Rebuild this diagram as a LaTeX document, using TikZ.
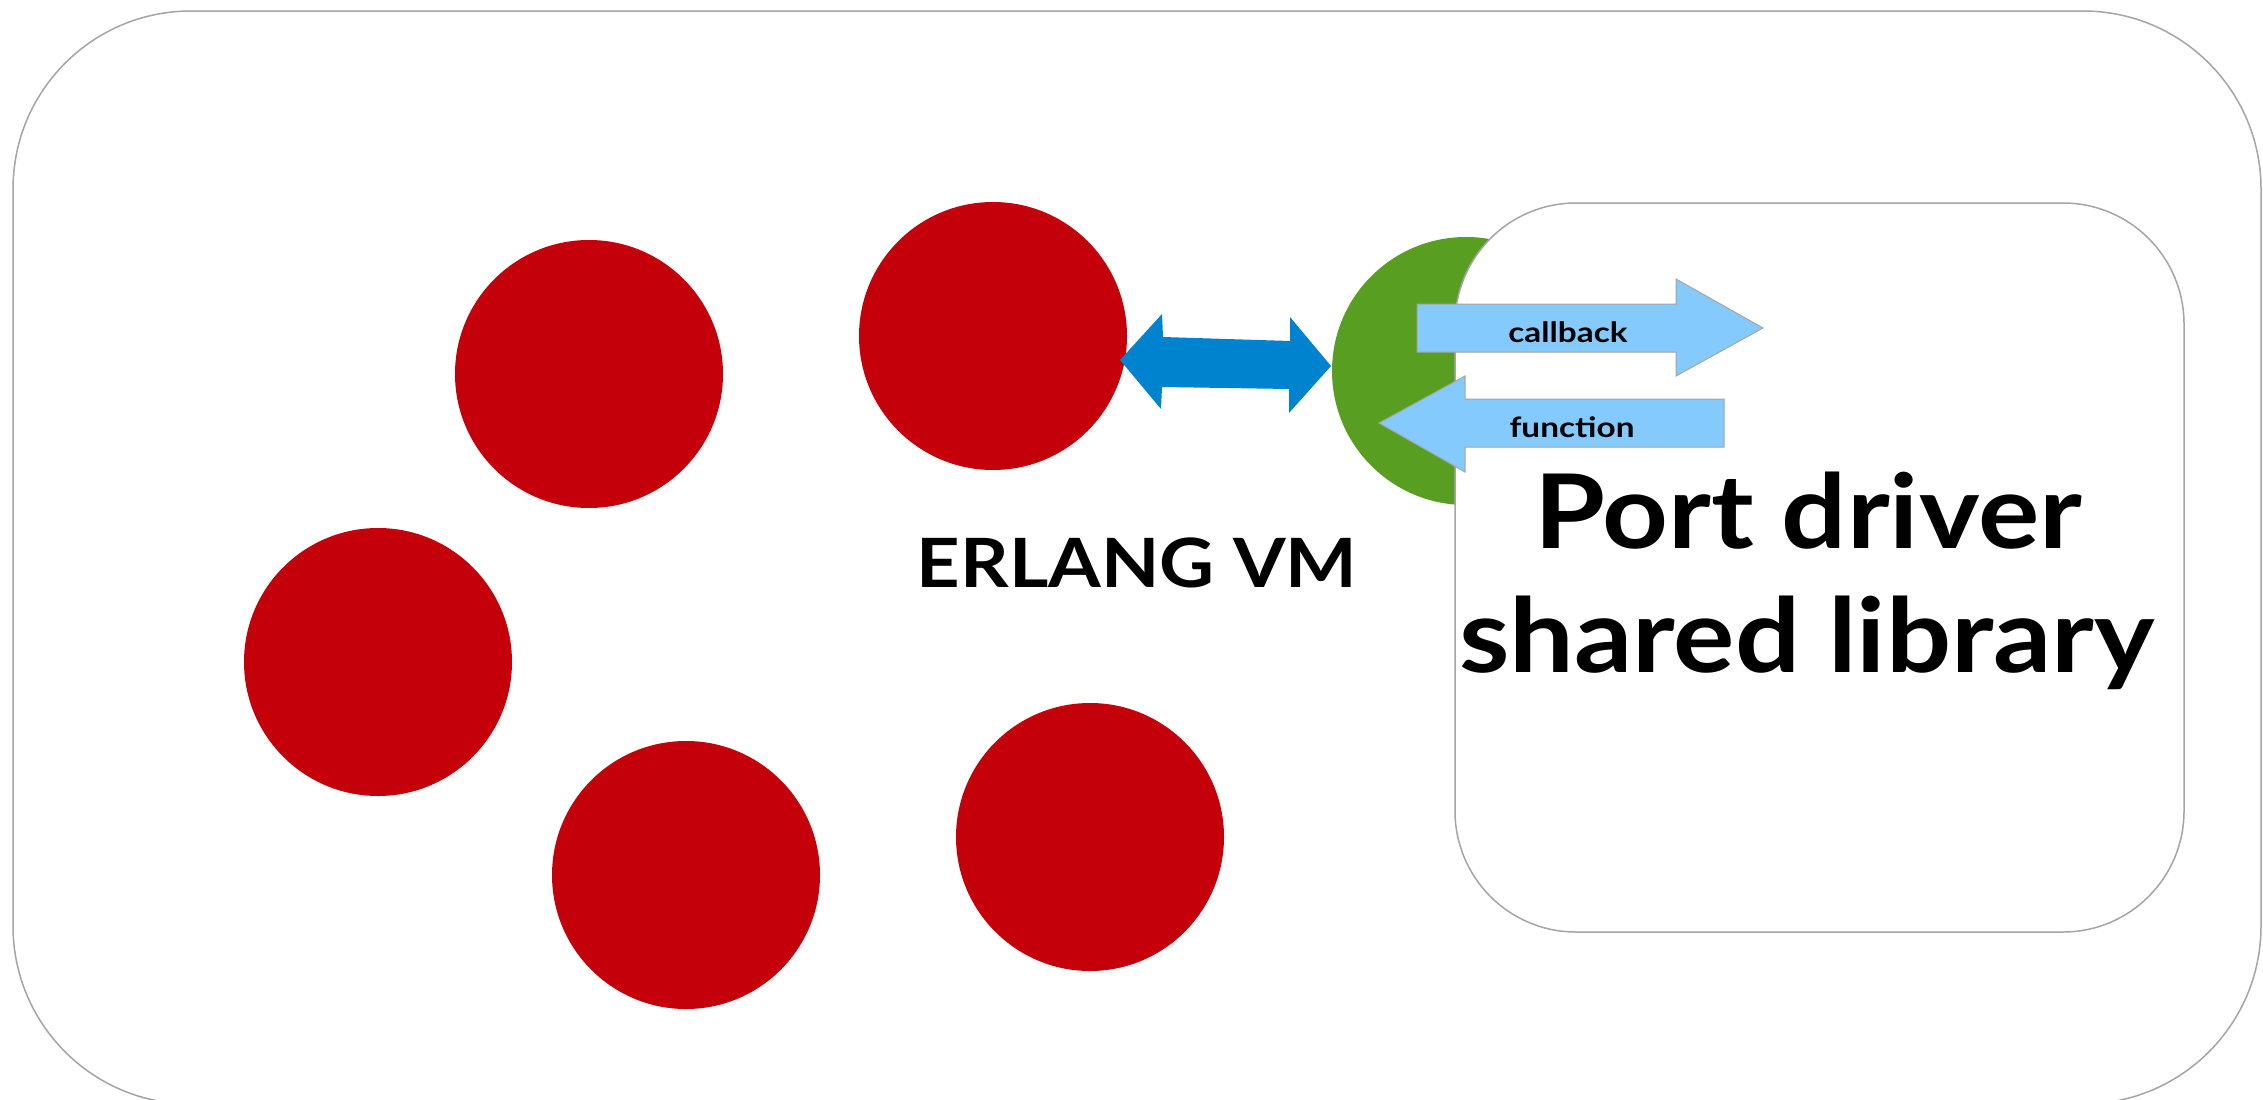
\documentclass[tikz,border=0pt]{standalone}
\usepackage{fontspec}
\setmainfont{Lato}
\newfontfamily\widefont[FakeStretch=1.115]{Lato}
\newfontfamily\smallwidefont[FakeStretch=1.19]{Lato}
\definecolor{erred}{RGB}{196,0,11}
\definecolor{ergreen}{RGB}{88,158,32}
\definecolor{erblue}{RGB}{0,131,207}
\definecolor{ltblue}{RGB}{132,202,252}
\definecolor{edgegray}{RGB}{165,165,165}
\begin{document}
\begin{tikzpicture}[x=1pt,y=-1pt,
  proc/.style={circle,fill=erred,minimum size=268pt,inner sep=0pt},
  portc/.style={circle,fill=ergreen,minimum size=268pt,inner sep=0pt},
  frame/.style={draw=edgegray,line width=1.5pt},
  blockarrow/.style={fill=ltblue,draw=edgegray,line width=1pt},
  lbl/.style={anchor=base,inner sep=0pt}]
\useasboundingbox (0,0) rectangle (2263,1100);
\fill[white] (0,0) rectangle (2263,1100);
\begin{scope}
\clip (0,0) rectangle (2263,1100);
\draw[frame,rounded corners=178pt] (13,11) rectangle (2261,1104);
\end{scope}
% processes
\node[proc] (pa) at (589,374) {};
\node[proc] (pb) at (993,336) {};
\node[proc] (pc) at (378,662) {};
\node[proc] (pd) at (686,875) {};
\node[proc] (pe) at (1090,837) {};
\node[portc] (port) at (1466,371) {};
% blue double arrow
\fill[erblue] (1120,360) -- (1162,314) -- (1163,337) -- (1290,341) -- (1290,317)
  -- (1331,366) -- (1289,413) -- (1289,389) -- (1162,387) -- (1161,409) -- cycle;
% shared library box
\draw[frame,fill=white,rounded corners=121pt] (1455,203) rectangle (2184,932);
% callback / function arrows
\draw[blockarrow] (1417,304) -- (1676,304) -- (1676,279) -- (1763,328) -- (1676,376)
  -- (1676,352) -- (1417,352) -- cycle;
\draw[blockarrow] (1724,399) -- (1465,399) -- (1465,376) -- (1379,423) -- (1465,472)
  -- (1465,447) -- (1724,447) -- cycle;
% texts
\node[lbl,font=\smallwidefont\bfseries\fontsize{28}{32}\selectfont] (cb) at (1568,342) {callback};
\node[lbl,font=\smallwidefont\bfseries\fontsize{28}{32}\selectfont] (fn) at (1572,437) {function};
\node[lbl,font=\widefont\bfseries\fontsize{68}{80}\selectfont] (vm) at (1137,587) {ERLANG VM};
\node[lbl,font=\widefont\bfseries\fontsize{103}{124}\selectfont] (pd1) at (1808,548) {Port driver};
\node[lbl,font=\widefont\bfseries\fontsize{103}{124}\selectfont] (pd2) at (1807,672) {shared library};
\end{tikzpicture}
\end{document}
